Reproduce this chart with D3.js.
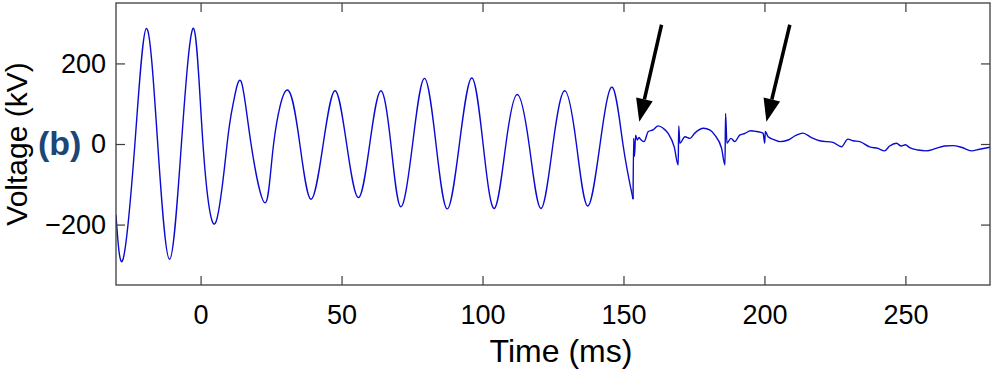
<!DOCTYPE html>
<html>
<head>
<meta charset="utf-8">
<script src="https://cdn.jsdelivr.net/npm/d3@7"></script>
<style>
  html, body { margin: 0; padding: 0; background: #fff; }
  svg { display: block; font-family: "Liberation Sans", Arial, sans-serif; }
</style>
</head>
<body>
<div id="chart"></div>
<script>
// Voltage (kV) vs time (ms).
// Oscillation before the break: peaks, troughs and zero crossings
const oscTimeMs = [
  -30, -27.5, -23.3, -19.2, -15.2, -11.0, -6.8, -2.5, 0.85, 5.2,
  9.4, 11.7, 14.4, 17.9, 22.9, 25.9, 30.8, 35.2, 39.2,
  43.5, 47.7, 51.8, 56.0, 60.0, 63.9, 67.5, 71.0, 75.2, 79.4, 83.5, 87.5,
  91.8, 96.2, 100.2, 104.2, 108.3, 112.3, 116.5, 120.7, 125.0, 129.2, 133.3,
  137.3, 141.7, 146.0, 149.8, 153.4
];
const oscKv = [
  -176, -286, 0, 287, 0, -286, 0, 287, 0, -197,
  0, 105, 155, 0, -146, 0, 134, 0, -137,
  0, 132, 0, -133, 0, 132, 0, -156, 0, 163, 0, -161,
  0, 164, 0, -160, 0, 123, 0, -160, 0, 132, 0,
  -154, 0, 141, 0, -137
];

// Ragged tail after the break
const tailTimeMs = [
  153.4, 153.6, 153.9, 154.3, 154.9, 155.5, 156.0, 157.3, 158.8, 160.5, 162.3, 164.1,
  165.8, 168.0, 169.4, 169.6, 170.0, 171.8, 173.6, 175.3, 178.4, 180.6, 182.4,
  184.8, 186.0, 186.2, 186.7, 188.1, 189.5, 191.2, 193.0, 195.1, 197.2, 199.5,
  200.1, 200.3, 201.3, 203.6, 205.4, 208.4, 211.3, 213.6, 216.7, 219.6, 224.3,
  227.3, 229.6, 231.5, 233.8, 237.3, 240.3, 242.6, 244.4, 246.8, 248.5, 250.0,
  251.5, 254.4, 257.4, 260.9, 263.9, 266.8, 269.8, 273.4, 276.3, 280
];
const tailKv = [
  -137, 14, -31, 22, 10, 16, 12, 6, 31, 35, 45, 39,
  27, -7, -52, 45, 2, 18, 14, 27, 39, 35, 22,
  -11, -52, 76, 2, 14, 6, 22, 26, 33, 31, 27,
  2, 31, 18, 10, 6, 10, 22, 27, 16, 8, 4,
  -7, 12, 8, 6, -7, -11, -17, -5, 2, -5, -2,
  -9, -15, -17, -11, -5, -4, -8, -17, -13, -8
];

// Annotation arrows, [time, kV] of tail and tip
const arrowTails = [[163.5, 296], [209.0, 296]];
const arrowTips = [[155.6, 55], [200.7, 55]];

const xTicks = [0, 50, 100, 150, 200, 250];
const yTicks = [-200, 0, 200];

const width = 993, height = 378;
const plot = { left: 116, right: 990, top: 3, bottom: 285 };

const svg = d3.select('#chart').append('svg')
  .attr('width', width)
  .attr('height', height);

const x = d3.scaleLinear().domain([-30, 280]).range([plot.left, plot.right]);
const y = d3.scaleLinear().domain([-350, 350]).range([plot.bottom, plot.top]);

const oscPoints = oscTimeMs.map((t, i) => [t, oscKv[i]]);
const tailPoints = tailTimeMs.map((t, i) => [t, tailKv[i]]);

// Clip to the box
svg.append('clipPath').attr('id', 'clip')
  .append('rect')
  .attr('x', plot.left).attr('y', plot.top)
  .attr('width', plot.right - plot.left)
  .attr('height', plot.bottom - plot.top);

const lineColor = '#0a0ad2';

// smooth sine-like part
svg.append('path')
  .datum(oscPoints)
  .attr('clip-path', 'url(#clip)')
  .attr('fill', 'none')
  .attr('stroke', lineColor)
  .attr('stroke-width', 1.4)
  .attr('stroke-linejoin', 'round')
  .attr('d', d3.line().x(d => x(d[0])).y(d => y(d[1])).curve(d3.curveNatural));

// jagged part
svg.append('path')
  .datum(tailPoints)
  .attr('clip-path', 'url(#clip)')
  .attr('fill', 'none')
  .attr('stroke', lineColor)
  .attr('stroke-width', 1.4)
  .attr('stroke-linejoin', 'round')
  .attr('d', d3.line().x(d => x(d[0])).y(d => y(d[1])).curve(d3.curveMonotoneX));

// Axes, ticks point inward on all four sides
const tickLen = 9;
const axisColor = '#3c3c3c';

const styleAxis = g => {
  g.select('.domain').remove();
  g.selectAll('.tick line').attr('stroke', axisColor).attr('stroke-width', 1.2);
  g.selectAll('.tick text')
    .attr('fill', '#000')
    .style('font-size', '27px')
    .style('font-family', '"Liberation Sans", Arial, sans-serif');
};

svg.append('g')
  .attr('transform', `translate(0,${plot.bottom})`)
  .call(d3.axisBottom(x).tickValues(xTicks).tickSizeInner(-tickLen).tickSizeOuter(0).tickPadding(20))
  .call(styleAxis);

svg.append('g')
  .attr('transform', `translate(0,${plot.top})`)
  .call(d3.axisTop(x).tickValues(xTicks).tickSizeInner(-tickLen).tickSizeOuter(0).tickFormat(''))
  .call(styleAxis);

svg.append('g')
  .attr('transform', `translate(${plot.left},0)`)
  .call(d3.axisLeft(y).tickValues(yTicks).tickSizeInner(-tickLen).tickSizeOuter(0).tickPadding(10))
  .call(styleAxis);

svg.append('g')
  .attr('transform', `translate(${plot.right},0)`)
  .call(d3.axisRight(y).tickValues(yTicks).tickSizeInner(-tickLen).tickSizeOuter(0).tickFormat(''))
  .call(styleAxis);

// Box
svg.append('rect')
  .attr('x', plot.left).attr('y', plot.top)
  .attr('width', plot.right - plot.left)
  .attr('height', plot.bottom - plot.top)
  .attr('fill', 'none')
  .attr('stroke', axisColor)
  .attr('stroke-width', 1.3);

// Arrows
const headLen = 23, headHalf = 8.5;
arrowTips.forEach((tipD, i) => {
  const tail = [x(arrowTails[i][0]), y(arrowTails[i][1])];
  const tip = [x(tipD[0]), y(tipD[1])];
  const dx = tip[0] - tail[0], dy = tip[1] - tail[1];
  const len = Math.hypot(dx, dy);
  const ux = dx / len, uy = dy / len;
  const bx = tip[0] - ux * headLen, by = tip[1] - uy * headLen;
  svg.append('line')
    .attr('x1', tail[0]).attr('y1', tail[1])
    .attr('x2', bx).attr('y2', by)
    .attr('stroke', '#000')
    .attr('stroke-width', 3.5);
  svg.append('path')
    .attr('d', `M${tip[0]},${tip[1]}L${bx - uy * headHalf},${by + ux * headHalf}L${bx + uy * headHalf},${by - ux * headHalf}Z`)
    .attr('fill', '#000');
});

// Axis titles
svg.append('text')
  .attr('x', 561)
  .attr('y', 362)
  .attr('text-anchor', 'middle')
  .style('font-size', '32px')
  .text('Time (ms)');

svg.append('text')
  .attr('transform', `translate(27,${y(0)}) rotate(-90)`)
  .attr('text-anchor', 'middle')
  .style('font-size', '30px')
  .text('Voltage (kV)');

// Panel label
svg.append('text')
  .attr('x', 38)
  .attr('y', 155)
  .attr('fill', '#1b4676')
  .style('font-size', '34px')
  .style('font-weight', 'bold')
  .text('(b)');
</script>
</body>
</html>
